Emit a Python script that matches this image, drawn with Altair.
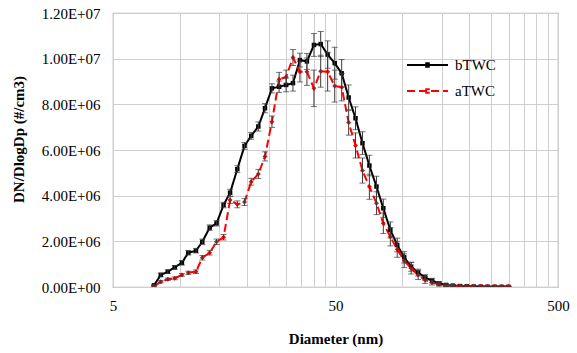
import altair as alt
import pandas as pd

# ---- data (values in units of 1e6 #/cm3) ----
diameter = [7.64, 8.20, 8.82, 9.47, 10.2, 10.9, 11.8, 12.6, 13.6, 14.6, 15.7, 16.8, 18.1,
            19.5, 20.9, 22.5, 24.1, 25.9, 27.9, 30.0, 32.2, 34.6, 37.2, 40.0, 42.9, 46.1,
            49.6, 53.3, 57.3, 61.5, 66.1, 71.0, 76.4, 82.0, 88.2, 94.7, 101.8, 109.4, 117.6,
            126.3, 135.8, 145.9, 156.8, 168.5, 181.1, 194.6, 209.1, 224.7, 241.4, 259.5,
            278.9, 299.6]

btwc = [0.07, 0.53, 0.67, 0.86, 1.06, 1.50, 1.59, 1.98, 2.60, 2.79, 3.59, 4.13, 5.16,
        6.18, 6.62, 7.03, 7.83, 8.70, 8.77, 8.85, 8.93, 9.94, 9.88, 10.60, 10.64, 10.18,
        9.80, 9.36, 8.30, 7.39, 6.30, 5.32, 4.40, 3.45, 2.50, 1.84, 1.30, 0.89, 0.63,
        0.42, 0.28, 0.16, 0.09, 0.06, 0.04, 0.03, 0.02, 0.015, 0.01, 0.008, 0.005, 0.003]
btwc_err = [0.03, 0.08, 0.08, 0.08, 0.10, 0.10, 0.10, 0.12, 0.12, 0.12, 0.12, 0.15, 0.15,
            0.15, 0.15, 0.20, 0.20, 0.20, 0.25, 0.30, 0.35, 0.30, 0.35, 0.50, 0.55, 0.60,
            0.70, 0.60, 0.55, 0.50, 0.50, 0.45, 0.45, 0.40, 0.35, 0.30, 0.25, 0.20, 0.15,
            0.12, 0.10, 0.08, 0.06, 0.05, 0.04, 0.03, 0.02, 0.02, 0.01, 0.01, 0.01, 0.01]

atwc = [0.03, 0.23, 0.34, 0.38, 0.53, 0.62, 0.67, 1.28, 1.50, 1.98, 2.18, 3.81, 3.62,
        3.72, 4.61, 4.95, 5.72, 7.24, 9.10, 9.20, 10.05, 9.43, 9.43, 8.70, 9.45, 9.43,
        8.80, 8.75, 7.20, 6.20, 5.10, 4.39, 3.67, 2.79, 2.20, 1.65, 1.15, 0.82, 0.53,
        0.31, 0.19, 0.12, 0.07, 0.05, 0.04, 0.04, 0.035, 0.03, 0.03, 0.03, 0.03, 0.03]
atwc_err = [0.03, 0.05, 0.05, 0.06, 0.06, 0.07, 0.08, 0.10, 0.10, 0.12, 0.12, 0.15, 0.15,
            0.15, 0.15, 0.20, 0.20, 0.25, 0.30, 0.30, 0.35, 0.45, 0.60, 0.80, 0.70, 0.85,
            0.70, 0.60, 0.55, 0.55, 0.55, 0.55, 0.50, 0.45, 0.40, 0.35, 0.30, 0.25, 0.20,
            0.15, 0.10, 0.08, 0.06, 0.05, 0.04, 0.03, 0.02, 0.02, 0.02, 0.02, 0.02, 0.02]

series_names = ["bTWC", "aTWC"]
series_colors = ["#000000", "#ff0000"]
x_grid = [5, 10, 15, 20, 25, 30, 35, 40, 45, 50, 100, 150, 200, 250, 300, 350, 400, 450, 500]
x_labels = [5, 50, 500]
y_ticks = [0, 2e6, 4e6, 6e6, 8e6, 1e7, 1.2e7]

rows = []
for name, vals, errs in [("bTWC", btwc, btwc_err), ("aTWC", atwc, atwc_err)]:
    for d, v, e in zip(diameter, vals, errs):
        rows.append({"series": name, "d": d, "v": v * 1e6,
                     "lo": max(v - e, 0) * 1e6, "hi": (v + e) * 1e6})
df = pd.DataFrame(rows)

FONT = "Liberation Serif"

x_enc = alt.X("d:Q", scale=alt.Scale(type="log", domain=[5, 500], nice=False),
              axis=alt.Axis(values=x_grid,
                            labelExpr="indexof(" + str(x_labels) + ", datum.value) >= 0 ? format(datum.value, 'd') : ''",
                            title="Diameter (nm)", titleY=51, titleBaseline="middle",
                            labelPadding=11, tickSize=0, domain=False, labelFlush=False))

exp_e = "floor(log(datum.value) / LN10 + 0.000000001)"
y_label_expr = ("datum.value == 0 ? '0.00E+00' : format(datum.value / pow(10, " + exp_e +
                "), '.2f') + 'E+' + (" + exp_e + " < 10 ? '0' : '') + " + exp_e)
y_enc = alt.Y("v:Q", scale=alt.Scale(domain=[0, 1.2e7], nice=False),
              axis=alt.Axis(values=y_ticks, labelExpr=y_label_expr,
                            title="DN/DlogDp (#/cm3)", titleX=-95, titleY=126,
                            titleBaseline="middle", labelPadding=13, tickSize=0, domain=False))

legend = alt.Legend(title=None, orient="none", legendX=300, legendY=37.5,
                    symbolType="M-1.52,0H1.52M-0.167,-0.137H0.167M-0.167,0.137H0.167",
                    symbolSize=729, symbolStrokeWidth=2,
                    labelFont=FONT, labelFontSize=15, labelColor="black",
                    labelOffset=13, rowPadding=3, padding=0)

color = alt.Color("series:N", scale=alt.Scale(domain=series_names, range=series_colors),
                  legend=legend)
dash = alt.StrokeDash("series:N", scale=alt.Scale(domain=series_names, range=[[1, 0], [8, 4]]),
                      legend=legend)

base = alt.Chart(df)

lines = base.mark_line(strokeWidth=2, clip=True).encode(x=x_enc, y=y_enc, color=color, strokeDash=dash)
points_b = base.transform_filter(alt.datum.series == series_names[0]).mark_point(
    shape="square", filled=True, size=20, opacity=1, color=series_colors[0], clip=True).encode(
    x="d:Q", y="v:Q")
points_a = base.transform_filter(alt.datum.series == series_names[1]).mark_point(
    shape="diamond", filled=True, size=24, opacity=1, color=series_colors[1], clip=True).encode(
    x="d:Q", y="v:Q")
err_rules = base.mark_rule(color="#3a3a3a", strokeWidth=1, clip=True).encode(
    x="d:Q", y="lo:Q", y2="hi:Q")
cap_lo = base.mark_tick(color="#3a3a3a", orient="horizontal", size=6, thickness=1, clip=True).encode(
    x="d:Q", y="lo:Q")
cap_hi = base.mark_tick(color="#3a3a3a", orient="horizontal", size=6, thickness=1, clip=True).encode(
    x="d:Q", y="hi:Q")

chart = alt.layer(lines, points_b, points_a, err_rules, cap_lo, cap_hi).properties(
    width=445, height=274,
    padding={"left": 113, "top": 13, "right": 19, "bottom": 66},
    autosize="none",
    background="white",
).configure_axis(
    labelFont=FONT, labelFontSize=15, labelColor="black",
    titleFont=FONT, titleFontSize=15, titleFontWeight="bold", titleColor="black",
    gridColor="#cfcfcf", gridWidth=1, gridOpacity=1,
).configure_view(stroke="#b0b0b0", strokeWidth=1.2)

chart.save("out.html", embed_options={"renderer": "svg", "actions": False})
